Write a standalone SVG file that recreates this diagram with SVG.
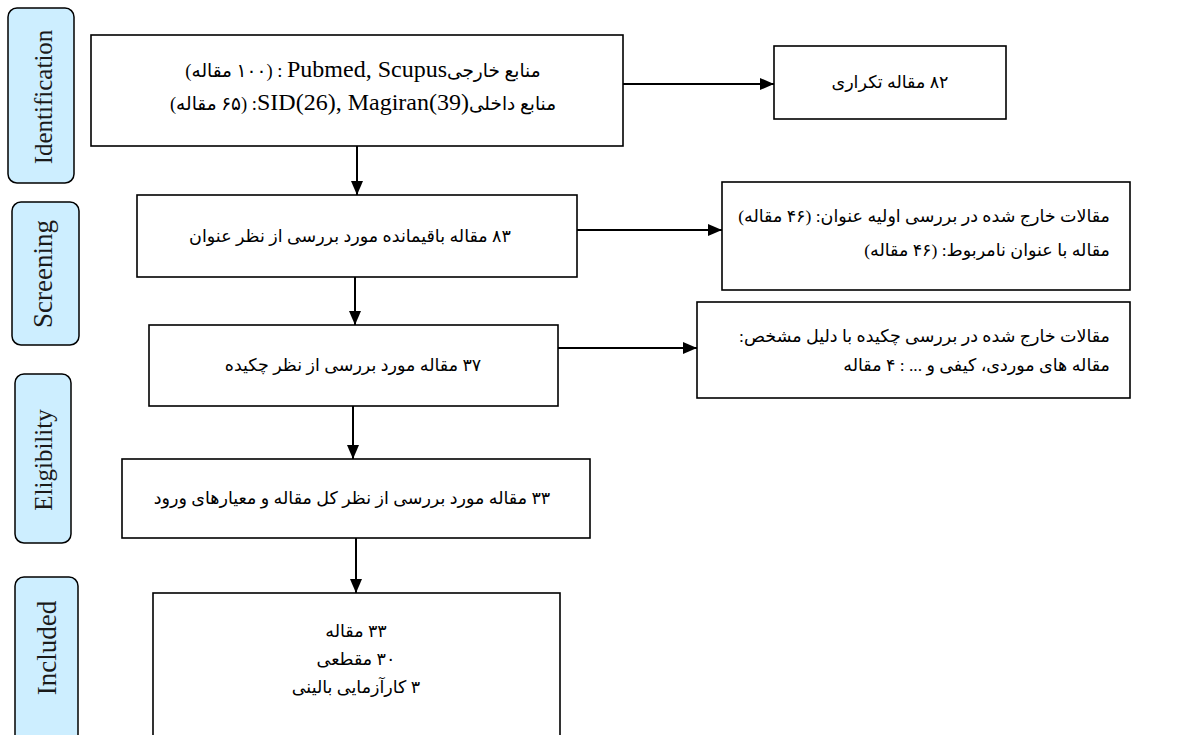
<svg xmlns="http://www.w3.org/2000/svg" width="1178" height="735" viewBox="0 0 1178 735">
<defs>
<marker id="ah" markerWidth="14" markerHeight="12" refX="14" refY="6" orient="auto" markerUnits="userSpaceOnUse">
<path d="M0,0 L14,6 L0,12 Z" fill="#000"/>
</marker>
<style>
.box{fill:#fff;stroke:#000;stroke-width:1.6}
.lab{fill:#cdeeff;stroke:#000;stroke-width:1.5}
.lt{font-family:"Liberation Serif",serif;font-size:25px;fill:#1a1a1a}
.fa{font-family:"Liberation Serif","DejaVu Sans",sans-serif;font-size:17.5px;fill:#000}
.fa1{font-size:18.5px}
.en{font-family:"Liberation Serif",serif;font-size:24px}
.c{stroke:#000;stroke-width:2;fill:none;marker-end:url(#ah)}
</style>
</defs>
<g id="label-identification"><rect class="lab" x="8" y="8" width="66" height="175" rx="9"/><text class="lt" transform="translate(52,97) rotate(-90)" text-anchor="middle">Identification</text></g>
<g id="label-screening"><rect class="lab" x="12" y="202" width="67" height="143" rx="9"/><text class="lt" transform="translate(52,274) rotate(-90)" text-anchor="middle" style="font-size:27px">Screening</text></g>
<g id="label-eligibility"><rect class="lab" x="15" y="374" width="56" height="169" rx="9"/><text class="lt" transform="translate(52,460) rotate(-90)" text-anchor="middle">Eligibility</text></g>
<g id="label-included"><rect class="lab" x="15" y="577" width="63" height="168" rx="9"/><text class="lt" transform="translate(56,648) rotate(-90)" text-anchor="middle" style="font-size:27px">Included</text></g>

<g id="connectors">
<line class="c" x1="623" y1="84" x2="774" y2="84"/>
<line class="c" x1="357" y1="146" x2="357" y2="195"/>
<line class="c" x1="577" y1="230" x2="722" y2="230"/>
<line class="c" x1="355" y1="277" x2="355" y2="325"/>
<line class="c" x1="558" y1="348" x2="697" y2="348"/>
<line class="c" x1="353" y1="406" x2="353" y2="459"/>
<line class="c" x1="356" y1="538" x2="356" y2="593"/>
</g>

<g id="n1"><rect class="box" x="91" y="35" width="532" height="111"/>
<text class="fa fa1" x="363" y="77" direction="rtl" text-anchor="middle">منابع خارجی<tspan class="en">Pubmed, Scupus</tspan>&#x200F; : (۱۰۰ مقاله)</text>
<text class="fa fa1" x="363" y="110" direction="rtl" text-anchor="middle">منابع داخلی<tspan class="en">SID(26), Magiran(39)&#x200E;</tspan>&#x200F;: (۶۵ مقاله)</text></g>
<g id="n2"><rect class="box" x="774" y="46" width="232" height="73"/>
<text class="fa" x="890" y="88" direction="rtl" text-anchor="middle">۸۲ مقاله تکراری</text></g>
<g id="n3"><rect class="box" x="137" y="195" width="440" height="82"/>
<text class="fa" x="350" y="242" direction="rtl" text-anchor="middle">۸۳ مقاله باقیمانده مورد بررسی از نظر عنوان</text></g>
<g id="n4"><rect class="box" x="722" y="182" width="408" height="108"/>
<text class="fa" x="1110" y="222" direction="rtl" text-anchor="start">مقالات خارج شده در بررسی اولیه عنوان: (۴۶ مقاله)</text>
<text class="fa" x="1110" y="256" direction="rtl" text-anchor="start">مقاله با عنوان نامربوط: (۴۶ مقاله)</text></g>
<g id="n5"><rect class="box" x="149" y="325" width="409" height="81"/>
<text class="fa" x="353" y="371" direction="rtl" text-anchor="middle">۳۷ مقاله مورد بررسی از نظر چکیده</text></g>
<g id="n6"><rect class="box" x="697" y="302" width="433" height="96"/>
<text class="fa" x="1110" y="342" direction="rtl" text-anchor="start">مقالات خارج شده در بررسی چکیده با دلیل مشخص:</text>
<text class="fa" x="1110" y="371" direction="rtl" text-anchor="start">مقاله های موردی، کیفی و ... : ۴ مقاله</text></g>
<g id="n7"><rect class="box" x="122" y="459" width="468" height="79"/>
<text class="fa" x="352" y="504" direction="rtl" text-anchor="middle">۳۳ مقاله مورد بررسی از نظر کل مقاله و معیارهای ورود</text></g>
<g id="n8"><rect class="box" x="153" y="593" width="407" height="152"/>
<text class="fa" x="356" y="637" direction="rtl" text-anchor="middle">۳۳ مقاله</text>
<text class="fa" x="356" y="665" direction="rtl" text-anchor="middle">۳۰ مقطعی</text>
<text class="fa" x="356" y="693" direction="rtl" text-anchor="middle">۳ کارآزمایی بالینی</text></g>
</svg>
